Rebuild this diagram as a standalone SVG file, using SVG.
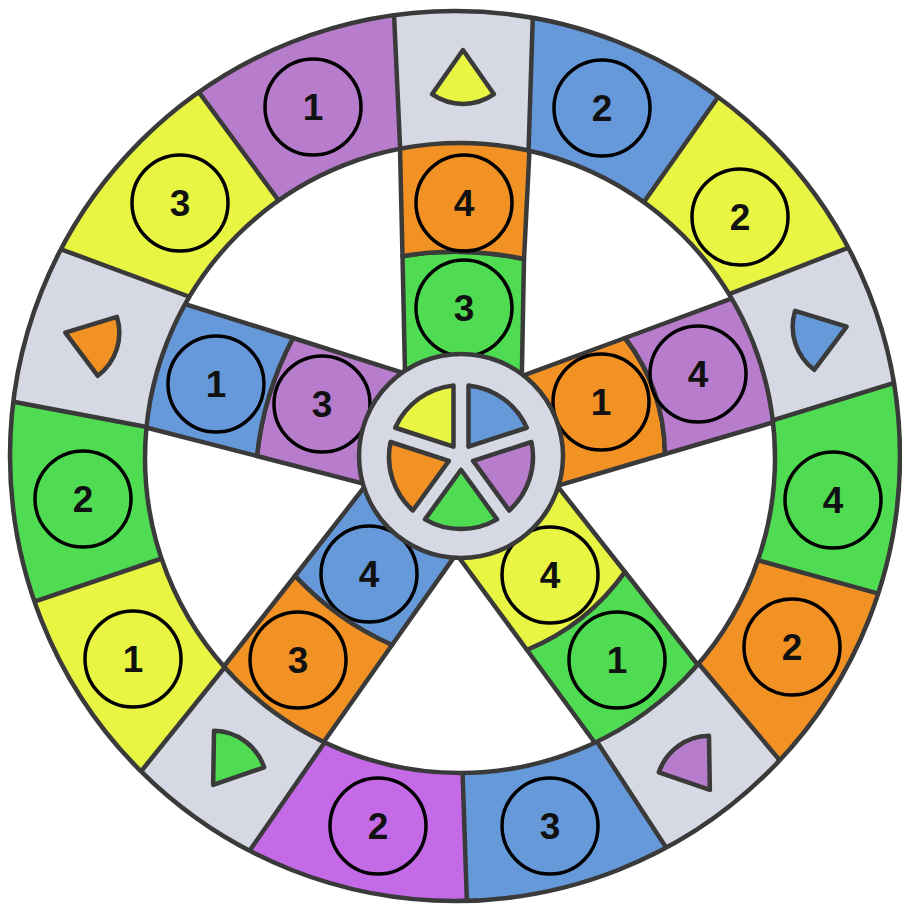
<svg xmlns="http://www.w3.org/2000/svg" width="902" height="907" viewBox="0 0 902 907">
<style>
.f{stroke:#3a3a3a;stroke-width:4.5;stroke-linejoin:round;stroke-linecap:round}
.ln{fill:none;stroke:#3a3a3a;stroke-width:4.5;stroke-linecap:round}
.c{fill:none;stroke:#000;stroke-width:3.5}
.t{font-family:"Liberation Sans",Arial,sans-serif;font-size:37px;font-weight:bold;text-anchor:middle;fill:#111}
.gy{fill:#d6d9e3}.ye{fill:#e8f542}.bl{fill:#6699da}.gr{fill:#50dc52}.or{fill:#f39224}.pu{fill:#b77ccb}.pb{fill:#c46ae6}
</style>
<defs>
<clipPath id="rc"><path clip-rule="evenodd" d="M10,456 a445,445 0 1 0 890,0 a445,445 0 1 0 -890,0 Z M145,458 a315,315 0 1 0 630,0 a315,315 0 1 0 -630,0 Z"/></clipPath>
<path id="tri" d="M0,-27 L31,17.2 A54,54 0 0 1 -31,17.2 Z"/>
<path id="wedge" d="M0,12.76 L36.02,62.34 A72,72 0 0 1 -36.02,62.34 Z"/>
</defs>
<rect width="902" height="907" fill="#fff"/>

<!-- spokes -->
<g id="spoke-top-inner"><path class="f gr" d="M406,420 L402.5,256 Q463,246 524,259 L521,420 Z"/><circle class="c" cx="464" cy="308" r="48"/><text class="t" x="464" y="321">3</text></g>
<g id="spoke-top-outer"><path class="f or" d="M402.5,256 Q463,246 524,259 L530,140 L399.8,140 Z"/><circle class="c" cx="464" cy="203" r="48"/><text class="t" x="464" y="216">4</text></g>
<g id="spoke-right-inner"><path class="f or" d="M500.2,383.9 L625,338 Q664,388 665,454 L530,493.8 Z"/><circle class="c" cx="601" cy="402" r="48"/><text class="t" x="601" y="415">1</text></g>
<g id="spoke-right-outer"><path class="f pu" d="M625,338 Q664,388 665,454 L791.8,416.9 L753.6,290.4 Z"/><circle class="c" cx="698" cy="374" r="48"/><text class="t" x="698" y="387">4</text></g>
<g id="spoke-lr-inner"><path class="f ye" d="M449.8,545 L527,650 Q587.2,625.1 625,572 L548.4,474.7 Z"/><circle class="c" cx="550" cy="575" r="48"/><text class="t" x="550" y="588">4</text></g>
<g id="spoke-lr-outer"><path class="f gr" d="M527,650 Q587.2,625.1 625,572 L711.6,682.3 L608.2,761 Z"/><circle class="c" cx="617" cy="660" r="48"/><text class="t" x="617" y="673">1</text></g>
<g id="spoke-ll-inner"><path class="f bl" d="M378.4,469 L295,576 Q336.5,620.3 392,645 L465.2,541.4 Z"/><circle class="c" cx="369" cy="574" r="48"/><text class="t" x="369" y="587">4</text></g>
<g id="spoke-ll-outer"><path class="f or" d="M295,576 Q336.5,620.3 392,645 L310.3,761 L211.3,682.5 Z"/><circle class="c" cx="298" cy="660" r="48"/><text class="t" x="298" y="673">3</text></g>
<g id="spoke-left-inner"><path class="f pu" d="M421.2,378.7 L293,338 Q263.5,393.5 257,456 L381.6,488.4 Z"/><circle class="c" cx="322" cy="404" r="48"/><text class="t" x="322" y="417">3</text></g>
<g id="spoke-left-outer"><path class="f bl" d="M293,338 Q263.5,393.5 257,456 L131.5,423.7 L166.8,298.3 Z"/><circle class="c" cx="216" cy="384" r="48"/><text class="t" x="216" y="397">1</text></g>

<!-- ring segments -->
<g id="ring-1"><polygon class="gy" clip-path="url(#rc)" points="400.9,167 391,-52.5 535,-53 528.4,168.1"/><use href="#tri" class="f ye" transform="translate(463,77)"/></g>
<g id="ring-2"><polygon class="bl" clip-path="url(#rc)" points="528.4,168.1 535,-53 757.5,42.5 633.8,215.8"/><circle class="c" cx="602" cy="108" r="48"/><text class="t" x="602" y="121">2</text></g>
<g id="ring-3"><polygon class="ye" clip-path="url(#rc)" points="633.8,215.8 757.5,42.5 909,224 714.3,299.9"/><circle class="c" cx="740" cy="217" r="48"/><text class="t" x="740" y="230">2</text></g>
<g id="ring-4"><polygon class="gy" clip-path="url(#rc)" points="714.3,299.9 909,224 959,363 754.4,425.7"/><use href="#tri" class="f bl" transform="translate(821,335) rotate(72)"/></g>
<g id="ring-5"><polygon class="gr" clip-path="url(#rc)" points="754.4,425.7 959,363 945.5,612.5 739.3,554.8"/><circle class="c" cx="833" cy="500" r="48"/><text class="t" x="833" y="513">4</text></g>
<g id="ring-6"><polygon class="or" clip-path="url(#rc)" points="739.3,554.8 945.5,612.5 824.5,813 687.6,651.3"/><circle class="c" cx="792" cy="647" r="48"/><text class="t" x="792" y="660">2</text></g>
<g id="ring-7"><polygon class="gy" clip-path="url(#rc)" points="687.6,651.3 824.5,813 705,907.5 589.5,731"/><use href="#tri" class="f pu" transform="translate(694,768) rotate(144)"/></g>
<g id="ring-8"><polygon class="bl" clip-path="url(#rc)" points="589.5,731 705,907.5 469,966 462.4,754.8"/><circle class="c" cx="550" cy="826" r="48"/><text class="t" x="550" y="839">3</text></g>
<g id="ring-9"><polygon class="pb" clip-path="url(#rc)" points="462.4,754.8 469,966 212.5,905.5 336.3,725.7"/><circle class="c" cx="378" cy="826" r="48"/><text class="t" x="378" y="839">2</text></g>
<g id="ring-10"><polygon class="gy" clip-path="url(#rc)" points="336.3,725.7 212.5,905.5 102,820 237.3,651.7"/><use href="#tri" class="f gr" transform="translate(229,763) rotate(216)"/></g>
<g id="ring-11"><polygon class="ye" clip-path="url(#rc)" points="237.3,651.7 102,820 -17,619 177.7,553"/><circle class="c" cx="133" cy="659" r="48"/><text class="t" x="133" y="672">1</text></g>
<g id="ring-12"><polygon class="gr" clip-path="url(#rc)" points="177.7,553 -17,619 -54.5,389.5 168.3,430.8"/><circle class="c" cx="83" cy="499" r="48"/><text class="t" x="83" y="512">2</text></g>
<g id="ring-13"><polygon class="gy" clip-path="url(#rc)" points="168.3,430.8 -54.5,389.5 -2,226.5 209.2,304.1"/><use href="#tri" class="f or" transform="translate(91,341) rotate(288)"/></g>
<g id="ring-14"><polygon class="ye" clip-path="url(#rc)" points="209.2,304.1 -2,226.5 159.5,38 289.9,216.2"/><circle class="c" cx="180" cy="203" r="48"/><text class="t" x="180" y="216">3</text></g>
<g id="ring-15"><polygon class="pu" clip-path="url(#rc)" points="289.9,216.2 159.5,38 391,-52.5 400.9,167"/><circle class="c" cx="313" cy="107" r="48"/><text class="t" x="313" y="120">1</text></g>

<!-- ring outlines -->
<g id="ring-outlines" class="ln">
<path clip-path="url(#rc)" d="M391,-52 L401,167 M535,-53 L528,168 M757,42 L634,216 M909,224 L714,300 M959,363 L754,426 M945,612 L739,555 M824,813 L688,651 M705,907 L590,731 M469,966 L462,755 M212,905 L336,726 M102,820 L237,652 M-17,619 L178,553 M-54,389 L168,431 M-2,226 L209,304 M159,38 L290,216"/>
<circle cx="455" cy="456" r="445"/>
<circle cx="460" cy="458" r="315"/>
</g>

<!-- hub -->
<g id="hub">
<circle class="f gy" cx="461" cy="456" r="102"/>
<g transform="translate(461,457)">
<use href="#wedge" class="f gr"/>
<use href="#wedge" class="f or" transform="rotate(72)"/>
<use href="#wedge" class="f ye" transform="rotate(144)"/>
<use href="#wedge" class="f bl" transform="rotate(216)"/>
<use href="#wedge" class="f pu" transform="rotate(288)"/>
</g>
</g>
</svg>
